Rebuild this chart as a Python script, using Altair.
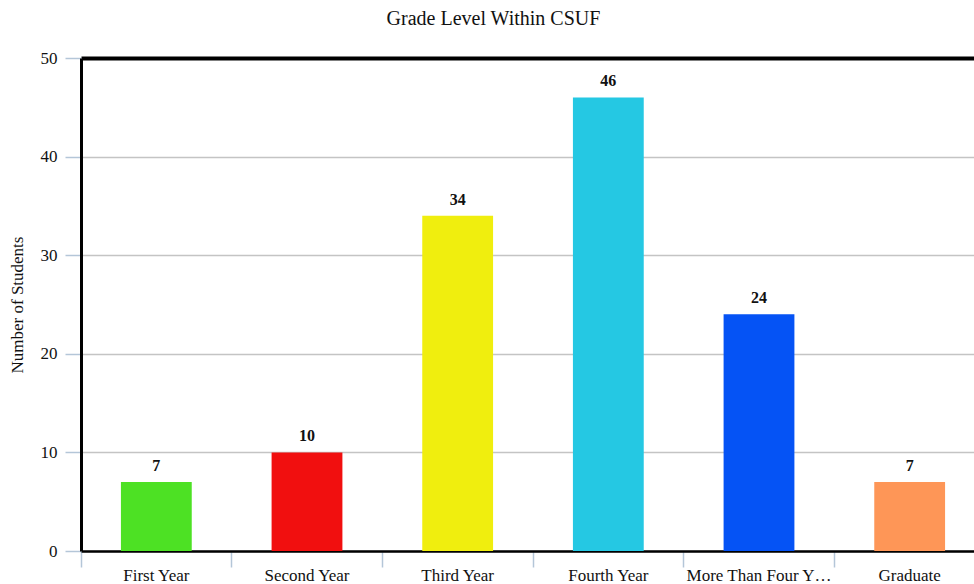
import altair as alt
import pandas as pd

# Survey counts by grade level
grades = ["First Year", "Second Year", "Third Year", "Fourth Year",
          "More Than Four Years", "Graduate"]
students = [7, 10, 34, 46, 24, 7]
bar_colors = ["#4de124", "#f10f0f", "#f0ee0e", "#25c8e3", "#0553f5", "#fe9657"]
y_ticks = [0, 10, 20, 30, 40, 50]

df = pd.DataFrame({"grade": grades, "students": students})

FONT = "Liberation Serif"

x_enc = alt.X(
    "grade:N",
    sort=grades,
    title=None,
    scale=alt.Scale(paddingInner=0, paddingOuter=0, range=[0, 904]),
    axis=alt.Axis(
        bandPosition=0,
        labelAngle=0,
        labelFont=FONT,
        labelFontSize=17,
        labelColor="#111",
        labelPadding=0,
        labelLimit=147,
        tickColor="#b4c6d8",
        tickSize=16,
        tickWidth=1.5,
        domainColor="#000",
        domainWidth=2.5,
        grid=False,
    ),
)

y_enc = alt.Y(
    "students:Q",
    scale=alt.Scale(domain=[0, 50], nice=False),
    axis=alt.Axis(
        values=y_ticks,
        title="Number of Students",
        titleFont=FONT,
        titleFontSize=17,
        titleFontWeight="normal",
        titleColor="#111",
        titlePadding=14,
        labelFont=FONT,
        labelFontSize=17,
        labelColor="#111",
        labelPadding=8,
        tickColor="#b4c6d8",
        tickSize=16,
        tickWidth=1.5,
        domainColor="#000",
        domainWidth=3,
        gridColor={"condition": {"test": "datum.value === 50", "value": "#000"},
                   "value": "#c4c4c4"},
        gridWidth={"condition": {"test": "datum.value === 50", "value": 4},
                   "value": 1.5},
    ),
)

base = alt.Chart(df).encode(x=x_enc, y=y_enc)

bars = base.mark_bar(width=alt.RelativeBandSize(0.47)).encode(
    color=alt.Color("grade:N", sort=grades,
                    scale=alt.Scale(domain=grades, range=bar_colors),
                    legend=None)
)

labels = base.mark_text(
    baseline="bottom", dy=-8, font=FONT, fontSize=16,
    fontWeight="bold", color="#111"
).encode(text="students:Q")

chart = (
    alt.layer(bars, labels)
    .properties(
        width=893,
        height=493,
        title=alt.TitleParams(
            "Grade Level Within CSUF",
            font=FONT,
            fontSize=20,
            fontWeight="normal",
            color="#111",
            anchor="middle",
            baseline="alphabetic",
            offset=4,
            dx=-34,
        ),
        autosize=alt.AutoSizeParams(type="none"),
        padding={"left": 81, "top": 58, "right": 0, "bottom": 33},
    )
    .configure_view(stroke=None)
    .configure(background="#ffffff")
)

chart.save("out.html", embed_options={"renderer": "svg", "actions": False})
